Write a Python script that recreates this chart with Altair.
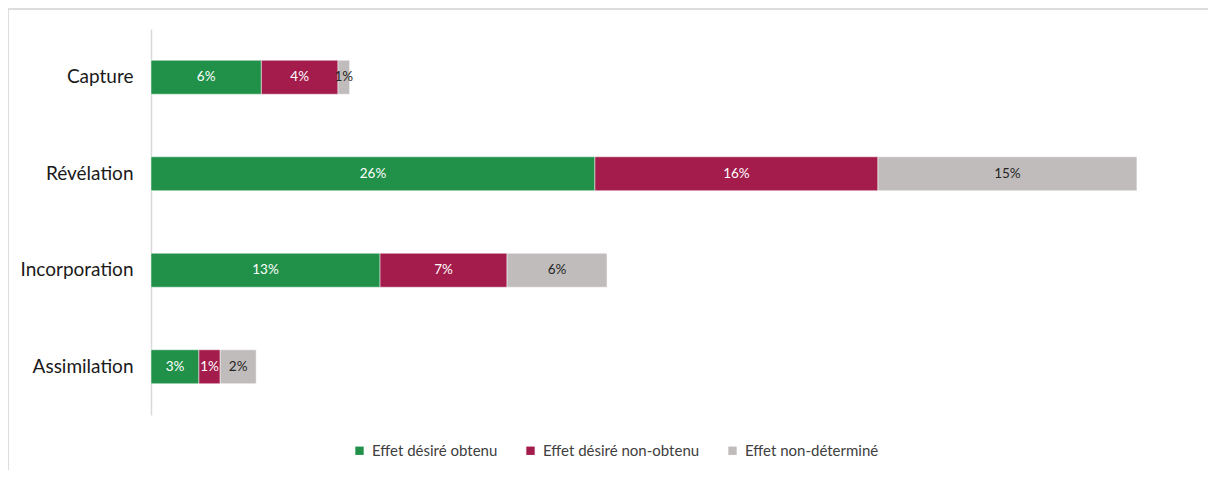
import altair as alt
import pandas as pd

categories = ["Capture", "Révélation", "Incorporation", "Assimilation"]
series = ["Effet désiré obtenu", "Effet désiré non-obtenu", "Effet non-déterminé"]
colors = ["#21914A", "#A31C4C", "#C0BCBB"]
text_colors = ["#FFFFFF", "#FFFFFF", "#262626"]

obtenu = [6.38, 25.66, 13.24, 2.77]
non_obtenu = [4.43, 16.36, 7.34, 1.23]
non_determine = [0.67, 14.97, 5.78, 2.08]

rows = []
for i, c in enumerate(categories):
    for j, (s, vals) in enumerate(zip(series, [obtenu, non_obtenu, non_determine])):
        rows.append({"cat": c, "series": s, "value": vals[i], "ord": j, "tcol": text_colors[j]})
df = pd.DataFrame(rows)

W, H = 1038, 386
FONT = "Lato"

base = alt.Chart(df).transform_stack(
    stack="value", groupby=["cat"], as_=["v0", "v1"], sort=[alt.SortField("ord", order="ascending")]
).transform_calculate(
    mid="(datum.v0 + datum.v1) / 2",
    label="format(datum.value, '.0f') + '%'"
)

y_enc = alt.Y("cat:N", sort=categories, title=None,
              scale=alt.Scale(paddingInner=0.648, paddingOuter=0.324),
              axis=alt.Axis(labelFontSize=19, labelFont=FONT, labelColor="#1a1a1a",
                            labelPadding=18, ticks=False, domainColor="#D9D9D9",
                            domainWidth=1.5, grid=False))

bars = base.mark_bar(stroke="white", strokeWidth=0.5).encode(
    y=y_enc,
    x=alt.X("v0:Q", scale=alt.Scale(domain=[0, 60], nice=False), axis=None),
    x2="v1:Q",
    color=alt.Color("series:N", scale=alt.Scale(domain=series, range=colors),
                    legend=alt.Legend(title=None, orient="none", direction="horizontal",
                                      legendX=201, legendY=414, symbolType="square",
                                      symbolSize=70, symbolStrokeWidth=0,
                                      labelFont=FONT, labelFontSize=15,
                                      labelColor="#404040", columnPadding=25,
                                      labelOffset=5)),
    order=alt.Order("ord:Q"),
)

texts = base.mark_text(font=FONT, fontSize=13.5, baseline="middle", align="center").encode(
    y=alt.Y("cat:N", sort=categories),
    x=alt.X("mid:Q"),
    text="label:N",
    color=alt.Color("tcol:N", scale=None),
)

frame_top = alt.Chart(pd.DataFrame({"a": [0]})).mark_rule(color="#DDDDDD", strokeWidth=2).encode(
    x=alt.value(-143), x2=alt.value(W + 19), y=alt.value(-20)
)
frame_left = alt.Chart(pd.DataFrame({"a": [0]})).mark_rule(color="#DDDDDD", strokeWidth=2).encode(
    x=alt.value(-143), y=alt.value(-20), y2=alt.value(H + 58)
)

chart = alt.layer(bars, texts, frame_top, frame_left).properties(
    width=W, height=H,
    autosize=alt.AutoSizeParams(type="none"),
    padding={"left": 143, "top": 21, "right": 19, "bottom": 55},
).configure(font=FONT).configure_view(strokeWidth=0, stroke="transparent")

chart.save("out.html", embed_options={"renderer": "svg", "actions": False})
